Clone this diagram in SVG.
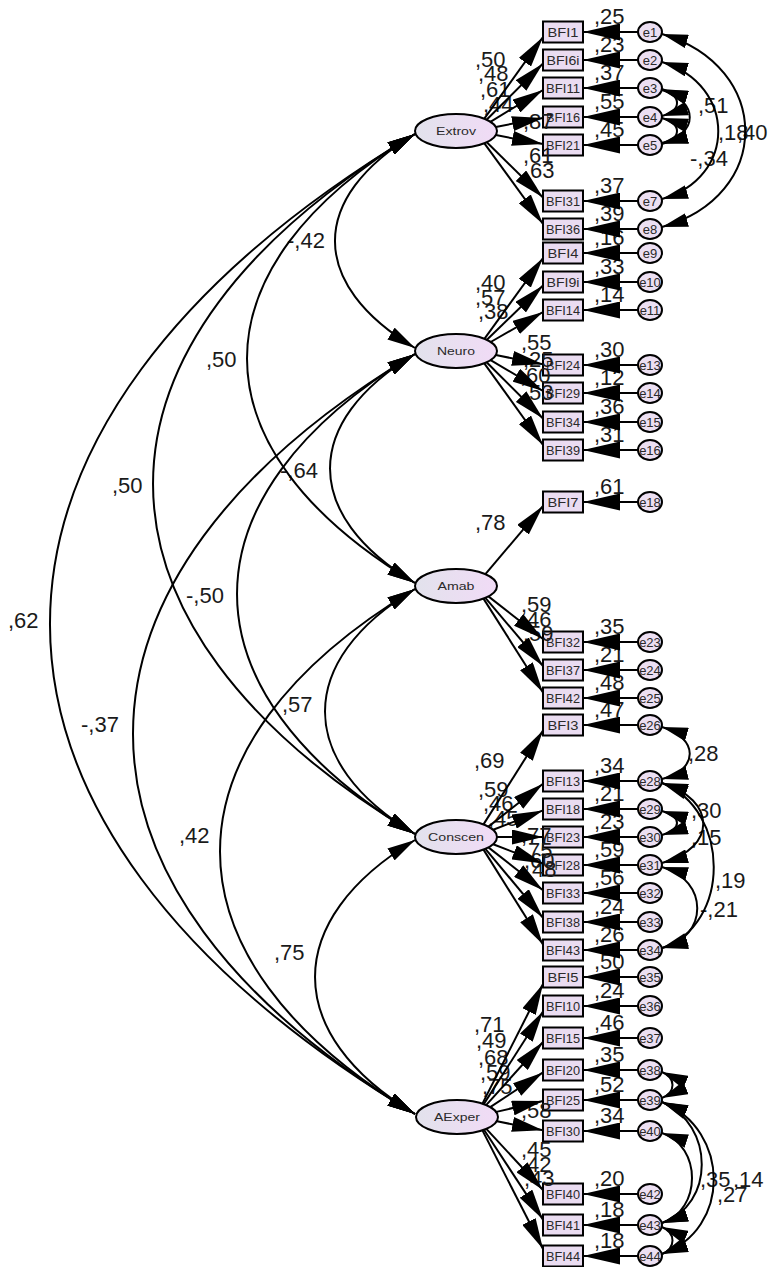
<svg xmlns="http://www.w3.org/2000/svg" width="774" height="1267" viewBox="0 0 774 1267">
<style>
text{font-family:"Liberation Sans",Arial,sans-serif}
.lat ellipse{fill:url(#lg);stroke:#000;stroke-width:2}
.obs rect{fill:#eadcf1;stroke:#000;stroke-width:2}
.err ellipse{fill:#ecdff2;stroke:#000;stroke-width:2}
.nt{font-size:13px;fill:#2a2a2a;text-anchor:middle}
.lt{font-size:11.5px;fill:#2a2a2a;text-anchor:middle}
.v{font-size:22px;fill:#1a1a1a}
#connectors path{stroke:#000;stroke-width:2;fill:none}
.ld{marker-end:url(#ah)}
.er{marker-end:url(#ah2)}
.cv{marker-start:url(#ah3);marker-end:url(#ah3)}
.ec{marker-start:url(#ah4);marker-end:url(#ah4)}
</style>
<defs>
<linearGradient id="lg" x1="0" y1="0" x2="1" y2="0"><stop offset="0" stop-color="#e2e2ec"/><stop offset="1" stop-color="#f1dbf6"/></linearGradient>
<marker id="ah" markerUnits="userSpaceOnUse" markerWidth="31" markerHeight="15" refX="31" refY="7.5" orient="auto"><path d="M0,0 L31,7.5 L0,15 z" fill="#000"/></marker>
<marker id="ah2" markerUnits="userSpaceOnUse" markerWidth="37" markerHeight="17" refX="37" refY="8.5" orient="auto"><path d="M0,0 L37,8.5 L0,17 z" fill="#000"/></marker>
<marker id="ah3" markerUnits="userSpaceOnUse" markerWidth="28" markerHeight="14" refX="28" refY="7" orient="auto-start-reverse"><path d="M0,0 L28,7 L0,14 z" fill="#000"/></marker>
<marker id="ah4" markerUnits="userSpaceOnUse" markerWidth="26" markerHeight="14" refX="26" refY="7" orient="auto-start-reverse"><path d="M0,0 L26,7 L0,14 z" fill="#000"/></marker>
</defs>

<g id="Extrov" class="lat"><ellipse cx="456" cy="131" rx="41" ry="17"/><text class="lt" x="456" y="135" textLength="40" lengthAdjust="spacingAndGlyphs">Extrov</text></g>
<g id="Neuro" class="lat"><ellipse cx="456" cy="351" rx="41" ry="17"/><text class="lt" x="456" y="355" textLength="38" lengthAdjust="spacingAndGlyphs">Neuro</text></g>
<g id="Amab" class="lat"><ellipse cx="456" cy="586" rx="41" ry="17"/><text class="lt" x="456" y="590" textLength="37" lengthAdjust="spacingAndGlyphs">Amab</text></g>
<g id="Conscen" class="lat"><ellipse cx="456" cy="837" rx="41" ry="17"/><text class="lt" x="456" y="841" textLength="56" lengthAdjust="spacingAndGlyphs">Conscen</text></g>
<g id="AExper" class="lat"><ellipse cx="457" cy="1117" rx="41" ry="17"/><text class="lt" x="457" y="1121" textLength="46" lengthAdjust="spacingAndGlyphs">AExper</text></g>

<g id="BFI1" class="obs"><rect x="543" y="21.5" width="40" height="21"/><text class="nt" x="563" y="37" textLength="31" lengthAdjust="spacingAndGlyphs">BFI1</text></g>
<g id="BFI6i" class="obs"><rect x="543" y="49.5" width="40" height="21"/><text class="nt" x="563" y="65" textLength="33" lengthAdjust="spacingAndGlyphs">BFI6i</text></g>
<g id="BFI11" class="obs"><rect x="543" y="77.5" width="40" height="21"/><text class="nt" x="563" y="93" textLength="34" lengthAdjust="spacingAndGlyphs">BFI11</text></g>
<g id="BFI16" class="obs"><rect x="543" y="106.5" width="40" height="21"/><text class="nt" x="563" y="122" textLength="34" lengthAdjust="spacingAndGlyphs">BFI16</text></g>
<g id="BFI21" class="obs"><rect x="543" y="134.5" width="40" height="21"/><text class="nt" x="563" y="150" textLength="34" lengthAdjust="spacingAndGlyphs">BFI21</text></g>
<g id="BFI31" class="obs"><rect x="543" y="190.5" width="40" height="21"/><text class="nt" x="563" y="206" textLength="34" lengthAdjust="spacingAndGlyphs">BFI31</text></g>
<g id="BFI36" class="obs"><rect x="543" y="218.5" width="40" height="21"/><text class="nt" x="563" y="234" textLength="34" lengthAdjust="spacingAndGlyphs">BFI36</text></g>
<g id="BFI4" class="obs"><rect x="543" y="242.5" width="40" height="21"/><text class="nt" x="563" y="258" textLength="31" lengthAdjust="spacingAndGlyphs">BFI4</text></g>
<g id="BFI9i" class="obs"><rect x="543" y="271.5" width="40" height="21"/><text class="nt" x="563" y="287" textLength="33" lengthAdjust="spacingAndGlyphs">BFI9i</text></g>
<g id="BFI14" class="obs"><rect x="543" y="299.5" width="40" height="21"/><text class="nt" x="563" y="315" textLength="34" lengthAdjust="spacingAndGlyphs">BFI14</text></g>
<g id="BFI24" class="obs"><rect x="543" y="354.5" width="40" height="21"/><text class="nt" x="563" y="370" textLength="34" lengthAdjust="spacingAndGlyphs">BFI24</text></g>
<g id="BFI29" class="obs"><rect x="543" y="382.5" width="40" height="21"/><text class="nt" x="563" y="398" textLength="34" lengthAdjust="spacingAndGlyphs">BFI29</text></g>
<g id="BFI34" class="obs"><rect x="543" y="411.5" width="40" height="21"/><text class="nt" x="563" y="427" textLength="34" lengthAdjust="spacingAndGlyphs">BFI34</text></g>
<g id="BFI39" class="obs"><rect x="543" y="439.5" width="40" height="21"/><text class="nt" x="563" y="455" textLength="34" lengthAdjust="spacingAndGlyphs">BFI39</text></g>
<g id="BFI7" class="obs"><rect x="543" y="491.5" width="40" height="21"/><text class="nt" x="563" y="507" textLength="31" lengthAdjust="spacingAndGlyphs">BFI7</text></g>
<g id="BFI32" class="obs"><rect x="543" y="631.5" width="40" height="21"/><text class="nt" x="563" y="647" textLength="34" lengthAdjust="spacingAndGlyphs">BFI32</text></g>
<g id="BFI37" class="obs"><rect x="543" y="659.5" width="40" height="21"/><text class="nt" x="563" y="675" textLength="34" lengthAdjust="spacingAndGlyphs">BFI37</text></g>
<g id="BFI42" class="obs"><rect x="543" y="687.5" width="40" height="21"/><text class="nt" x="563" y="703" textLength="34" lengthAdjust="spacingAndGlyphs">BFI42</text></g>
<g id="BFI3" class="obs"><rect x="543" y="714.5" width="40" height="21"/><text class="nt" x="563" y="730" textLength="31" lengthAdjust="spacingAndGlyphs">BFI3</text></g>
<g id="BFI13" class="obs"><rect x="543" y="770.5" width="40" height="21"/><text class="nt" x="563" y="786" textLength="34" lengthAdjust="spacingAndGlyphs">BFI13</text></g>
<g id="BFI18" class="obs"><rect x="543" y="798.5" width="40" height="21"/><text class="nt" x="563" y="814" textLength="34" lengthAdjust="spacingAndGlyphs">BFI18</text></g>
<g id="BFI23" class="obs"><rect x="543" y="826.5" width="40" height="21"/><text class="nt" x="563" y="842" textLength="34" lengthAdjust="spacingAndGlyphs">BFI23</text></g>
<g id="BFI28" class="obs"><rect x="543" y="854.5" width="40" height="21"/><text class="nt" x="563" y="870" textLength="34" lengthAdjust="spacingAndGlyphs">BFI28</text></g>
<g id="BFI33" class="obs"><rect x="543" y="882.5" width="40" height="21"/><text class="nt" x="563" y="898" textLength="34" lengthAdjust="spacingAndGlyphs">BFI33</text></g>
<g id="BFI38" class="obs"><rect x="543" y="911.5" width="40" height="21"/><text class="nt" x="563" y="927" textLength="34" lengthAdjust="spacingAndGlyphs">BFI38</text></g>
<g id="BFI43" class="obs"><rect x="543" y="939.5" width="40" height="21"/><text class="nt" x="563" y="955" textLength="34" lengthAdjust="spacingAndGlyphs">BFI43</text></g>
<g id="BFI5" class="obs"><rect x="543" y="966.5" width="40" height="21"/><text class="nt" x="563" y="982" textLength="31" lengthAdjust="spacingAndGlyphs">BFI5</text></g>
<g id="BFI10" class="obs"><rect x="543" y="995.5" width="40" height="21"/><text class="nt" x="563" y="1011" textLength="34" lengthAdjust="spacingAndGlyphs">BFI10</text></g>
<g id="BFI15" class="obs"><rect x="543" y="1027.5" width="40" height="21"/><text class="nt" x="563" y="1043" textLength="34" lengthAdjust="spacingAndGlyphs">BFI15</text></g>
<g id="BFI20" class="obs"><rect x="543" y="1059.5" width="40" height="21"/><text class="nt" x="563" y="1075" textLength="34" lengthAdjust="spacingAndGlyphs">BFI20</text></g>
<g id="BFI25" class="obs"><rect x="543" y="1089.5" width="40" height="21"/><text class="nt" x="563" y="1105" textLength="34" lengthAdjust="spacingAndGlyphs">BFI25</text></g>
<g id="BFI30" class="obs"><rect x="543" y="1120.5" width="40" height="21"/><text class="nt" x="563" y="1136" textLength="34" lengthAdjust="spacingAndGlyphs">BFI30</text></g>
<g id="BFI40" class="obs"><rect x="543" y="1183.5" width="40" height="21"/><text class="nt" x="563" y="1199" textLength="34" lengthAdjust="spacingAndGlyphs">BFI40</text></g>
<g id="BFI41" class="obs"><rect x="543" y="1214.5" width="40" height="21"/><text class="nt" x="563" y="1230" textLength="34" lengthAdjust="spacingAndGlyphs">BFI41</text></g>
<g id="BFI44" class="obs"><rect x="543" y="1245.5" width="40" height="21"/><text class="nt" x="563" y="1261" textLength="34" lengthAdjust="spacingAndGlyphs">BFI44</text></g>

<g id="e1" class="err"><ellipse cx="650" cy="32" rx="12" ry="10"/><text class="nt" x="650" y="36.5">e1</text></g>
<g id="e2" class="err"><ellipse cx="650" cy="60" rx="12" ry="10"/><text class="nt" x="650" y="64.5">e2</text></g>
<g id="e3" class="err"><ellipse cx="650" cy="88" rx="12" ry="10"/><text class="nt" x="650" y="92.5">e3</text></g>
<g id="e4" class="err"><ellipse cx="650" cy="117" rx="12" ry="10"/><text class="nt" x="650" y="121.5">e4</text></g>
<g id="e5" class="err"><ellipse cx="650" cy="145" rx="12" ry="10"/><text class="nt" x="650" y="149.5">e5</text></g>
<g id="e7" class="err"><ellipse cx="650" cy="201" rx="12" ry="10"/><text class="nt" x="650" y="205.5">e7</text></g>
<g id="e8" class="err"><ellipse cx="650" cy="229" rx="12" ry="10"/><text class="nt" x="650" y="233.5">e8</text></g>
<g id="e9" class="err"><ellipse cx="650" cy="253" rx="12" ry="10"/><text class="nt" x="650" y="257.5">e9</text></g>
<g id="e10" class="err"><ellipse cx="650" cy="282" rx="12" ry="10"/><text class="nt" x="650" y="286.5">e10</text></g>
<g id="e11" class="err"><ellipse cx="650" cy="310" rx="12" ry="10"/><text class="nt" x="650" y="314.5">e11</text></g>
<g id="e13" class="err"><ellipse cx="650" cy="365" rx="12" ry="10"/><text class="nt" x="650" y="369.5">e13</text></g>
<g id="e14" class="err"><ellipse cx="650" cy="393" rx="12" ry="10"/><text class="nt" x="650" y="397.5">e14</text></g>
<g id="e15" class="err"><ellipse cx="650" cy="422" rx="12" ry="10"/><text class="nt" x="650" y="426.5">e15</text></g>
<g id="e16" class="err"><ellipse cx="650" cy="450" rx="12" ry="10"/><text class="nt" x="650" y="454.5">e16</text></g>
<g id="e18" class="err"><ellipse cx="650" cy="502" rx="12" ry="10"/><text class="nt" x="650" y="506.5">e18</text></g>
<g id="e23" class="err"><ellipse cx="650" cy="642" rx="12" ry="10"/><text class="nt" x="650" y="646.5">e23</text></g>
<g id="e24" class="err"><ellipse cx="650" cy="670" rx="12" ry="10"/><text class="nt" x="650" y="674.5">e24</text></g>
<g id="e25" class="err"><ellipse cx="650" cy="698" rx="12" ry="10"/><text class="nt" x="650" y="702.5">e25</text></g>
<g id="e26" class="err"><ellipse cx="650" cy="725" rx="12" ry="10"/><text class="nt" x="650" y="729.5">e26</text></g>
<g id="e28" class="err"><ellipse cx="650" cy="781" rx="12" ry="10"/><text class="nt" x="650" y="785.5">e28</text></g>
<g id="e29" class="err"><ellipse cx="650" cy="809" rx="12" ry="10"/><text class="nt" x="650" y="813.5">e29</text></g>
<g id="e30" class="err"><ellipse cx="650" cy="837" rx="12" ry="10"/><text class="nt" x="650" y="841.5">e30</text></g>
<g id="e31" class="err"><ellipse cx="650" cy="865" rx="12" ry="10"/><text class="nt" x="650" y="869.5">e31</text></g>
<g id="e32" class="err"><ellipse cx="650" cy="893" rx="12" ry="10"/><text class="nt" x="650" y="897.5">e32</text></g>
<g id="e33" class="err"><ellipse cx="650" cy="922" rx="12" ry="10"/><text class="nt" x="650" y="926.5">e33</text></g>
<g id="e34" class="err"><ellipse cx="650" cy="950" rx="12" ry="10"/><text class="nt" x="650" y="954.5">e34</text></g>
<g id="e35" class="err"><ellipse cx="650" cy="977" rx="12" ry="10"/><text class="nt" x="650" y="981.5">e35</text></g>
<g id="e36" class="err"><ellipse cx="650" cy="1006" rx="12" ry="10"/><text class="nt" x="650" y="1010.5">e36</text></g>
<g id="e37" class="err"><ellipse cx="650" cy="1038" rx="12" ry="10"/><text class="nt" x="650" y="1042.5">e37</text></g>
<g id="e38" class="err"><ellipse cx="650" cy="1070" rx="12" ry="10"/><text class="nt" x="650" y="1074.5">e38</text></g>
<g id="e39" class="err"><ellipse cx="650" cy="1100" rx="12" ry="10"/><text class="nt" x="650" y="1104.5">e39</text></g>
<g id="e40" class="err"><ellipse cx="650" cy="1131" rx="12" ry="10"/><text class="nt" x="650" y="1135.5">e40</text></g>
<g id="e42" class="err"><ellipse cx="650" cy="1194" rx="12" ry="10"/><text class="nt" x="650" y="1198.5">e42</text></g>
<g id="e43" class="err"><ellipse cx="650" cy="1225" rx="12" ry="10"/><text class="nt" x="650" y="1229.5">e43</text></g>
<g id="e44" class="err"><ellipse cx="650" cy="1256" rx="12" ry="10"/><text class="nt" x="650" y="1260.5">e44</text></g>

<g id="labels" class="v">
<text x="594" y="24">,25</text><text x="594" y="52">,23</text><text x="594" y="80">,37</text><text x="594" y="109">,55</text><text x="594" y="137">,45</text>
<text x="594" y="193">,37</text><text x="594" y="221">,39</text><text x="594" y="245">,16</text><text x="594" y="274">,33</text><text x="594" y="302">,14</text>
<text x="594" y="357">,30</text><text x="594" y="385">,12</text><text x="594" y="414">,36</text><text x="594" y="442">,31</text>
<text x="594" y="494">,61</text><text x="594" y="634">,35</text><text x="594" y="662">,21</text><text x="594" y="690">,48</text>
<text x="594" y="717">,47</text><text x="594" y="773">,34</text><text x="594" y="801">,21</text><text x="594" y="829">,23</text><text x="594" y="857">,59</text>
<text x="594" y="885">,56</text><text x="594" y="914">,24</text><text x="594" y="942">,26</text>
<text x="594" y="969">,50</text><text x="594" y="998">,24</text><text x="594" y="1030">,46</text><text x="594" y="1062">,35</text><text x="594" y="1092">,52</text><text x="594" y="1123">,34</text>
<text x="594" y="1186">,20</text><text x="594" y="1217">,18</text><text x="594" y="1248">,18</text>

<text x="475" y="67">,50</text><text x="478" y="81">,48</text><text x="480" y="97">,61</text><text x="483" y="112">,44</text>
<text x="523" y="129">,87</text><text x="523" y="163">,61</text><text x="524" y="178">,63</text>
<text x="475" y="290">,40</text><text x="475" y="305">,57</text><text x="478" y="319">,38</text>
<text x="521" y="350">,55</text><text x="523" y="367">,25</text><text x="520" y="383">,60</text><text x="523" y="400">,53</text>
<text x="475" y="530">,78</text><text x="521" y="612">,59</text><text x="521" y="627">,46</text><text x="523" y="641">,59</text>
<text x="474" y="768">,69</text><text x="478" y="797">,59</text><text x="483" y="811">,46</text><text x="488" y="826">,45</text>
<text x="521" y="843">,77</text><text x="522" y="858">,75</text><text x="524" y="868">,60</text><text x="526" y="877">,48</text>
<text x="474" y="1032">,71</text><text x="476" y="1048">,49</text><text x="478" y="1065">,68</text><text x="480" y="1080">,59</text><text x="482" y="1094">,75</text>
<text x="521" y="1118">,58</text><text x="521" y="1157">,45</text><text x="521" y="1172">,42</text><text x="524" y="1186">,43</text>

<text x="287" y="248">-,42</text><text x="206" y="367">,50</text><text x="280" y="478">-,64</text><text x="112" y="493">,50</text>
<text x="186" y="603">-,50</text><text x="8" y="628">,62</text><text x="282" y="712">,57</text><text x="81" y="732">-,37</text>
<text x="179" y="843">,42</text><text x="274" y="960">,75</text>

<text x="718" y="140">,18</text><text x="737" y="140">,40</text><text x="690" y="166">-,34</text><text x="698" y="113">,51</text>
<text x="688" y="761">,28</text><text x="691" y="818">,30</text><text x="691" y="845">,15</text><text x="715" y="888">,19</text><text x="700" y="917">-,21</text>
<text x="700" y="1187">,35</text><text x="733" y="1187">,14</text><text x="717" y="1202">,27</text>
</g>

<g id="connectors">
<path class="ld" d="M484.3,118.7 L543,37"/>
<path class="ld" d="M486.6,119.7 L543,63.5"/>
<path class="ld" d="M490.4,121.8 L543,90"/>
<path class="ld" d="M495.8,126.9 L543,118"/>
<path class="ld" d="M495.8,135.1 L543,144"/>
<path class="ld" d="M486.8,142.2 L543,197.5"/>
<path class="ld" d="M484.4,143.3 L543,224"/>
<path class="ld" d="M484.4,338.8 L543,258"/>
<path class="ld" d="M486.9,339.8 L543,285.5"/>
<path class="ld" d="M490.7,342 L543,312"/>
<path class="ld" d="M495.8,355.1 L543,364.3"/>
<path class="ld" d="M490.6,360.1 L543,391"/>
<path class="ld" d="M486.6,362.3 L543,418.5"/>
<path class="ld" d="M484.3,363.3 L543,445"/>
<path class="ld" d="M485.4,574.2 L543,506"/>
<path class="ld" d="M488.4,596.4 L543,639"/>
<path class="ld" d="M485.4,597.8 L543,666"/>
<path class="ld" d="M483.5,598.6 L543,692.5"/>
<path class="ld" d="M483.5,824.4 L543,730.6"/>
<path class="ld" d="M488.4,826.6 L543,783.8"/>
<path class="ld" d="M493.2,829.8 L543,810.4"/>
<path class="ld" d="M497,837 L543,837"/>
<path class="ld" d="M493.2,844.2 L543,863.6"/>
<path class="ld" d="M488.4,847.4 L543,890.2"/>
<path class="ld" d="M485.4,848.9 L543,917.8"/>
<path class="ld" d="M483.5,849.6 L543,944.4"/>
<path class="ld" d="M482.3,1103.9 L543,984"/>
<path class="ld" d="M483.6,1104.4 L543,1011.5"/>
<path class="ld" d="M485.9,1105.4 L543,1042"/>
<path class="ld" d="M489.8,1107.4 L543,1072.4"/>
<path class="ld" d="M495.3,1112.1 L543,1101"/>
<path class="ld" d="M495.8,1121.1 L543,1130.3"/>
<path class="ld" d="M486.1,1128.6 L543,1190"/>
<path class="ld" d="M483.8,1129.5 L543,1219.6"/>
<path class="ld" d="M482.3,1130.1 L543,1249"/>

<path class="er" d="M638,32 H583"/><path class="er" d="M638,60 H583"/><path class="er" d="M638,88 H583"/><path class="er" d="M638,117 H583"/><path class="er" d="M638,145 H583"/>
<path class="er" d="M638,201 H583"/><path class="er" d="M638,229 H583"/><path class="er" d="M638,253 H583"/><path class="er" d="M638,282 H583"/><path class="er" d="M638,310 H583"/>
<path class="er" d="M638,365 H583"/><path class="er" d="M638,393 H583"/><path class="er" d="M638,422 H583"/><path class="er" d="M638,450 H583"/>
<path class="er" d="M638,502 H583"/><path class="er" d="M638,642 H583"/><path class="er" d="M638,670 H583"/><path class="er" d="M638,698 H583"/>
<path class="er" d="M638,725 H583"/><path class="er" d="M638,781 H583"/><path class="er" d="M638,809 H583"/><path class="er" d="M638,837 H583"/><path class="er" d="M638,865 H583"/>
<path class="er" d="M638,893 H583"/><path class="er" d="M638,922 H583"/><path class="er" d="M638,950 H583"/>
<path class="er" d="M638,977 H583"/><path class="er" d="M638,1006 H583"/><path class="er" d="M638,1038 H583"/><path class="er" d="M638,1070 H583"/><path class="er" d="M638,1100 H583"/><path class="er" d="M638,1131 H583"/>
<path class="er" d="M638,1194 H583"/><path class="er" d="M638,1225 H583"/><path class="er" d="M638,1256 H583"/>

<path class="cv" d="M415,134 C308.3,198 308.3,284 415,348"/>
<path class="cv" d="M415,354 C301.7,422 301.7,515 415,583"/>
<path class="cv" d="M415,589 C295,661 295,762 415,834"/>
<path class="cv" d="M415,840 C281.7,920 281.7,1034 415,1114"/>
<path class="cv" d="M415,134 C191,268.4 191,448.6 415,583"/>
<path class="cv" d="M415,354 C177.7,496.4 177.7,691.6 415,834"/>
<path class="cv" d="M415,589 C155,745 155,958 415,1114"/>
<path class="cv" d="M415,134 C65.7,343.6 65.7,624.4 415,834"/>
<path class="cv" d="M415,354 C39,579.6 39,888.4 415,1114"/>
<path class="cv" d="M415,134 C-71.7,426 -71.7,822 415,1114"/>

<path class="ec" d="M662,34 C773,67 773,196 662,227"/>
<path class="ec" d="M662,62 C737,85 737,178 662,199"/>
<path class="ec" d="M662,90 C699,101 699,134 662,143"/>
<path class="ec" d="M662,89 C682,96 682,110 662,116"/>
<path class="ec" d="M662,118 C682,124 682,138 662,144"/>
<path class="ec" d="M662,727 C699,738 699,770 662,779"/>
<path class="ec" d="M662,783 C717,800 717,848 662,863"/>
<path class="ec" d="M662,811 C682,817 682,829 662,835"/>
<path class="ec" d="M662,783 C731,810 731,925 662,948"/>
<path class="ec" d="M662,867 C709,880 709,937 662,948"/>
<path class="ec" d="M662,1072 C676,1078 676,1092 662,1098"/>
<path class="ec" d="M662,1133 C702,1146 702,1210 662,1223"/>
<path class="ec" d="M662,1102 C731,1130 731,1230 662,1254"/>
<path class="ec" d="M662,1102 C715,1125 715,1205 662,1223"/>
<path class="ec" d="M662,1227 C676,1233 676,1248 662,1254"/>
</g>
</svg>
